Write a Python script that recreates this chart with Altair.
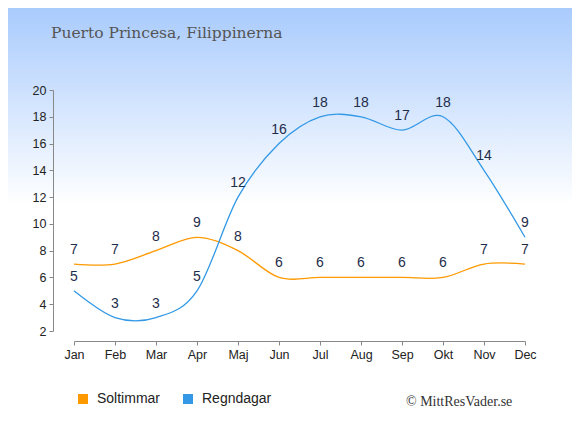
import altair as alt
import pandas as pd

months = ["Jan", "Feb", "Mar", "Apr", "Maj", "Jun", "Jul", "Aug", "Sep", "Okt", "Nov", "Dec"]
soltimmar = [7, 7, 8, 9, 8, 6, 6, 6, 6, 6, 7, 7]
regndagar = [5, 3, 3, 5, 12, 16, 18, 18, 17, 18, 14, 9]
series_names = ["Soltimmar", "Regndagar"]
series_colors = ["#ff9900", "#3399e6"]
title_text = "Puerto Princesa, Filippinerna"
credit_text = "© MittResVader.se"

rows = []
for name, vals in zip(series_names, [soltimmar, regndagar]):
    for m, v in zip(months, vals):
        rows.append({"series": name, "month": m, "value": v})
df = pd.DataFrame(rows)
one = pd.DataFrame({"a": [1]})

W, H = 451, 241
PL, PT, PR, PB = 66, 82, 47, 96

x_enc = alt.X("month:O", scale=alt.Scale(domain=months, padding=0),
              axis=alt.Axis(title=None, offset=10, labelAngle=0, tickSize=4,
                            labelPadding=3, grid=False, zindex=1,
                            labelFontSize=12.5, labelFont="Liberation Sans",
                            labelColor="#222"))
y_enc = alt.Y("value:Q", scale=alt.Scale(domain=[2, 20], nice=False, zero=False),
              axis=alt.Axis(title=None, offset=21, values=list(range(2, 21, 2)),
                            tickSize=4, labelPadding=3, grid=False, zindex=1,
                            labelFontSize=12.5, labelFont="Liberation Sans",
                            labelColor="#222"))
col_scale = alt.Scale(domain=series_names, range=series_colors)
legend = alt.Legend(orient="none", legendX=2, legendY=302,
                    direction="horizontal", title=None,
                    symbolType="square", symbolSize=100,
                    symbolOpacity=1, symbolStrokeWidth=0,
                    labelFont="Liberation Sans", labelFontSize=14,
                    labelColor="#222", labelOffset=7,
                    columnPadding=20, zindex=1)

bg = alt.Chart(one).mark_rect(
    fill=alt.Gradient(
        gradient="linear",
        stops=[alt.GradientStop(color="#a9cbfd", offset=0),
               alt.GradientStop(color="#ffffff", offset=0.47),
               alt.GradientStop(color="#ffffff", offset=1)],
        x1=0, x2=0, y1=0, y2=1),
).encode(x=alt.value(-PL), x2=alt.value(W + PR), y=alt.value(-PT), y2=alt.value(H + PB))

legend_pts = alt.Chart(df).mark_square(opacity=0, filled=True).encode(
    x=x_enc, y=y_enc,
    color=alt.Color("series:N", scale=col_scale, legend=legend),
)

lines = alt.Chart(df).mark_line(interpolate="cardinal", strokeWidth=1.3).encode(
    x=x_enc, y=y_enc,
    color=alt.Color("series:N", scale=col_scale, legend=legend),
    detail="series:N",
)

labels = alt.Chart(df).mark_text(dy=-14, fontSize=14, font="Liberation Sans",
                                 color="#1e2d4a").encode(
    x=x_enc, y=y_enc, text="value:Q")

title = alt.Chart(one).mark_text(align="left", baseline="alphabetic",
                                 font="DejaVu Serif", fontSize=15.5, color="#555555").encode(
    x=alt.value(-23), y=alt.value(-52), text=alt.value(title_text))

credit = alt.Chart(one).mark_text(align="left", baseline="alphabetic",
                                  font="Liberation Serif", fontSize=14, color="#333333").encode(
    x=alt.value(332), y=alt.value(316), text=alt.value(credit_text))

chart = alt.layer(bg, legend_pts, lines, labels, title, credit).properties(
    width=W, height=H,
    autosize=alt.AutoSizeParams(type="none"),
    padding={"left": PL, "top": PT, "right": PR, "bottom": PB},
).configure_view(stroke=None).configure_axis(
    domainColor="#000", tickColor="#000",
).configure(background="white")

chart.save("out.html", embed_options={"renderer": "svg", "actions": False})
